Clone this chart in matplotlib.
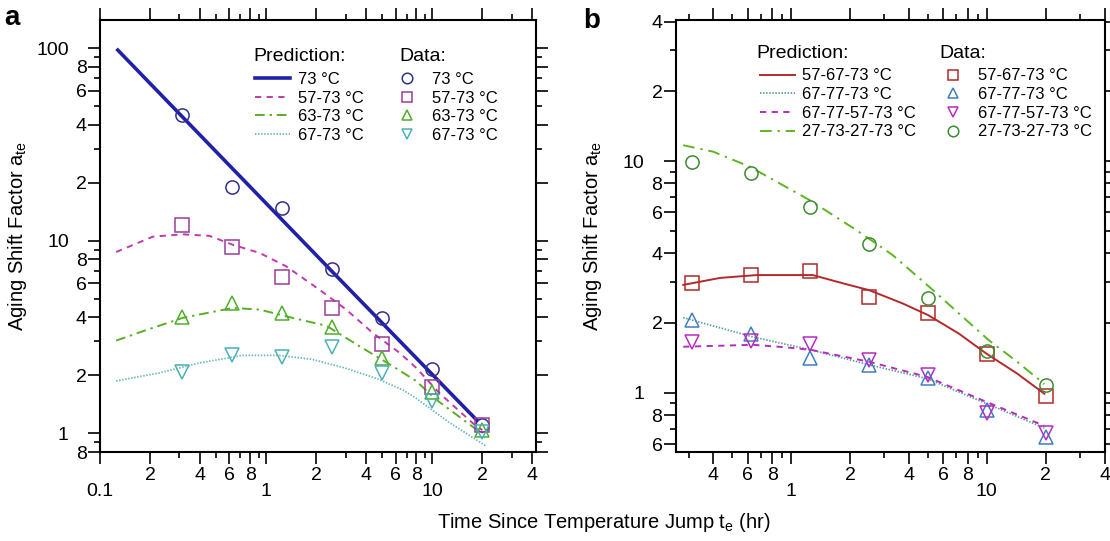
import numpy as np
import matplotlib
matplotlib.use('Agg')
import matplotlib.pyplot as plt
from matplotlib.ticker import LogLocator, FuncFormatter, NullFormatter

plt.rcParams['font.family'] = ['Liberation Sans Narrow', 'Liberation Sans']
plt.rcParams['mathtext.fontset'] = 'custom'
plt.rcParams['mathtext.rm'] = 'Liberation Sans'
plt.rcParams['mathtext.it'] = 'Liberation Sans:italic'

SANS = 'Liberation Sans'

# ---- panel a: measured aging shift factors ----
time_a = [0.3125, 0.625, 1.25, 2.5, 5, 10, 20]
data_a_73 = [45, 19, 14.8, 7.1, 3.95, 2.17, 1.1]
data_a_57 = [12.1, 9.3, 6.5, 4.5, 2.9, 1.75, 1.11]
data_a_63 = [4.04, 4.77, 4.24, 3.58, 2.45, 1.63, 1.04]
data_a_67 = [2.07, 2.56, 2.48, 2.82, 2.05, 1.48, 1.02]

# panel a: model predictions
pred_a_73_t = [0.128, 2.5, 18.5]
pred_a_73_v = [97.7, 6.9, 1.17]
pred_a_57_t = [0.125, 0.208, 0.315, 0.456, 0.63, 0.914, 1.32, 2.09, 3.03, 4.38, 6.34, 7.98, 11.0, 18.3, 20.0]
pred_a_57_v = [8.74, 10.5, 10.8, 10.6, 9.53, 8.64, 7.36, 5.57, 4.39, 3.32, 2.62, 2.19, 1.62, 1.09, 1.04]
pred_a_63_t = [0.125, 0.181, 0.315, 0.63, 0.914, 1.45, 2.3, 3.65, 5.78, 7.98, 10.5, 18.3, 20.0]
pred_a_63_v = [3.03, 3.39, 3.98, 4.48, 4.39, 3.97, 3.62, 2.83, 2.23, 1.87, 1.5, 1.05, 1.0]
pred_a_67_t = [0.125, 0.228, 0.397, 0.723, 1.2, 1.9, 2.89, 4.59, 6.64, 7.98, 12.6, 21.0]
pred_a_67_v = [1.87, 2.06, 2.32, 2.54, 2.54, 2.42, 2.2, 1.93, 1.68, 1.52, 1.14, 0.86]

# ---- panel b ----
time_b = [0.3125, 0.625, 1.25, 2.5, 5, 10, 20]
data_b_57_67 = [2.97, 3.22, 3.36, 2.6, 2.2, 1.47, 0.97]
data_b_67_77 = [2.06, 1.80, 1.41, 1.32, 1.16, 0.84, 0.645]
data_b_67_77_57 = [1.66, 1.68, 1.63, 1.39, 1.19, 0.815, 0.668]
data_b_27 = [9.87, 8.85, 6.35, 4.38, 2.56, 1.52, 1.08]

pred_b_57_67_t = [0.281, 0.433, 0.665, 1.29, 1.83, 2.51, 3.71, 5.03, 7.2, 9.9, 14.3, 19.7]
pred_b_57_67_v = [2.92, 3.13, 3.22, 3.22, 2.97, 2.77, 2.43, 2.16, 1.80, 1.48, 1.21, 0.99]
pred_b_67_77_t = [0.281, 0.64, 1.27, 2.51, 4.97, 9.9, 19.7]
pred_b_67_77_v = [2.11, 1.74, 1.53, 1.32, 1.15, 0.90, 0.705]
pred_b_67_77_57_t = [0.281, 0.64, 0.945, 1.27, 2.51, 4.97, 9.9, 19.7]
pred_b_67_77_57_v = [1.58, 1.61, 1.57, 1.53, 1.36, 1.17, 0.915, 0.72]
pred_b_27_t = [0.281, 0.40, 0.615, 1.24, 2.15, 2.71, 3.30, 5.07, 7.2, 10.2, 14.0, 19.7]
pred_b_27_v = [11.7, 10.97, 9.45, 6.79, 5.04, 4.41, 3.93, 2.87, 2.20, 1.69, 1.38, 1.09]


def tick_text(v, pos):
    e = np.floor(np.log10(v) + 1e-9)
    m = v / 10 ** e
    if abs(m - 1) < 1e-6:
        return '%g' % v
    return '%d' % round(m)


def style_axes(ax, xlim, ylim):
    ax.set_xscale('log')
    ax.set_yscale('log')
    ax.set_xlim(*xlim)
    ax.set_ylim(*ylim)
    for axis in (ax.xaxis, ax.yaxis):
        axis.set_major_locator(LogLocator(10, subs=(1.0, 2.0, 4.0, 6.0, 8.0), numticks=40))
        axis.set_minor_locator(LogLocator(10, subs=(3.0, 5.0, 7.0, 9.0), numticks=40))
        axis.set_major_formatter(FuncFormatter(tick_text))
        axis.set_minor_formatter(NullFormatter())
    for s in ax.spines.values():
        s.set_linewidth(1.5)
    ax.tick_params(which='both', direction='out', top=True, right=True, width=1.2,
                   labelsize=14)
    ax.tick_params(which='major', length=8.5)
    ax.tick_params(which='minor', length=4.3)
    ax.tick_params(axis='x', which='major', pad=2)
    ax.tick_params(axis='y', which='major', pad=1)
    # decade labels sit further away from the axis
    for axis, big in ((ax.xaxis, 13.5), (ax.yaxis, 14)):
        for tick, loc in zip(axis.get_major_ticks(), axis.get_majorticklocs()):
            m = loc / 10 ** np.floor(np.log10(loc) + 1e-9)
            if abs(m - 1) < 1e-6:
                tick.set_pad(big)


def add_legends(ax, lines, marks, pred_xy, data_xy, head_pred, head_data):
    kw = dict(loc='upper left', frameon=False, borderpad=0, borderaxespad=0,
              handlelength=2.1, handletextpad=0.45, labelspacing=0.22,
              prop={'family': SANS, 'size': 12})
    leg1 = ax.legend(handles=lines, bbox_to_anchor=pred_xy, **kw)
    ax.add_artist(leg1)
    ax.legend(handles=marks, bbox_to_anchor=data_xy, markerscale=0.8, **kw)
    ax.text(head_pred[0], head_pred[1], 'Prediction:', transform=ax.transAxes,
            family=SANS, size=14, va='center', ha='left')
    ax.text(head_data[0], head_data[1], 'Data:', transform=ax.transAxes,
            family=SANS, size=14, va='center', ha='left')


fig = plt.figure(figsize=(11.1, 5.41), dpi=100)
ax_a = fig.add_axes([0.0901, 0.1645, 0.3928, 0.7985])
ax_b = fig.add_axes([0.6087, 0.1645, 0.3868, 0.7985])

mk = dict(linestyle='none', markerfacecolor='none', markersize=9.5, markeredgewidth=1.1)

# panel a
la1, = ax_a.plot(pred_a_73_t, pred_a_73_v, '-', color='#2121a8', lw=2.6, label='73 °C')
la2, = ax_a.plot(pred_a_57_t, pred_a_57_v, color='#c03aa8', lw=1.4, dashes=[3.2, 2.8], label='57-73 °C')
la3, = ax_a.plot(pred_a_63_t, pred_a_63_v, color='#5aae26', lw=1.4, dashes=[5, 2.5, 1.2, 2.5], label='63-73 °C')
la4, = ax_a.plot(pred_a_67_t, pred_a_67_v, color='#6ab8b8', lw=1.3, dashes=[0.8, 0.9], label='67-73 °C')
ma1, = ax_a.plot(time_a, data_a_73, marker='o', markeredgecolor='#30308c', label='73 °C', **mk)
ma2, = ax_a.plot(time_a, data_a_57, marker='s', markeredgecolor='#9a3c98', label='57-73 °C', **mk)
ma3, = ax_a.plot(time_a, data_a_63, marker='^', markeredgecolor='#4eae2c', label='63-73 °C', **mk)
ma4, = ax_a.plot(time_a, data_a_67, marker='v', markeredgecolor='#4ab0b8', label='67-73 °C', **mk)

style_axes(ax_a, (0.1, 42), (0.8, 140))
add_legends(ax_a, [la1, la2, la3, la4], [ma1, ma2, ma3, ma4],
            (0.3555, 0.880), (0.6636, 0.880), (0.3517, 0.915), (0.686, 0.915))
ax_a.set_ylabel('Aging Shift Factor a$_\\mathrm{te}$', family=SANS, size=14.5)
ax_a.yaxis.set_label_coords(-0.163, 0.5)

# panel b
lb1, = ax_b.plot(pred_b_57_67_t, pred_b_57_67_v, '-', color='#b22a2a', lw=1.4, label='57-67-73 °C')
lb2, = ax_b.plot(pred_b_67_77_t, pred_b_67_77_v, color='#5a9aa0', lw=1.3, dashes=[0.8, 0.9], label='67-77-73 °C')
lb3, = ax_b.plot(pred_b_67_77_57_t, pred_b_67_77_57_v, color='#b52cc0', lw=1.4, dashes=[3.2, 2.8], label='67-77-57-73 °C')
lb4, = ax_b.plot(pred_b_27_t, pred_b_27_v, color='#5fb520', lw=1.4, dashes=[6, 3, 1.2, 3], label='27-73-27-73 °C')
mb1, = ax_b.plot(time_b, data_b_57_67, marker='s', markeredgecolor='#b22a2a', label='57-67-73 °C', **mk)
mb2, = ax_b.plot(time_b, data_b_67_77, marker='^', markeredgecolor='#3f7fbf', label='67-77-73 °C', **mk)
mb3, = ax_b.plot(time_b, data_b_67_77_57, marker='v', markeredgecolor='#b52cc0', label='67-77-57-73 °C', **mk)
mb4, = ax_b.plot(time_b, data_b_27, marker='o', markeredgecolor='#3c8c30', label='27-73-27-73 °C', **mk)

style_axes(ax_b, (0.257, 40.2), (0.555, 40.6))
add_legends(ax_b, [lb1, lb2, lb3, lb4], [mb1, mb2, mb3, mb4],
            (0.1964, 0.888), (0.606, 0.888), (0.187, 0.923), (0.614, 0.923))
ax_b.set_ylabel('Aging Shift Factor a$_\\mathrm{te}$', family=SANS, size=14.5)
ax_b.yaxis.set_label_coords(-0.1675, 0.5)

fig.text(0.544, 0.035, 'Time Since Temperature Jump t$_\\mathrm{e}$ (hr)', family=SANS,
         size=14.5, ha='center', va='center')
fig.text(4 / 1110, 1 - 25 / 541, 'a', family=SANS, size=20, weight='bold', ha='left', va='baseline')
fig.text(583 / 1110, 1 - 28 / 541, 'b', family=SANS, size=20, weight='bold', ha='left', va='baseline')

fig.savefig('out.png', dpi=100)
